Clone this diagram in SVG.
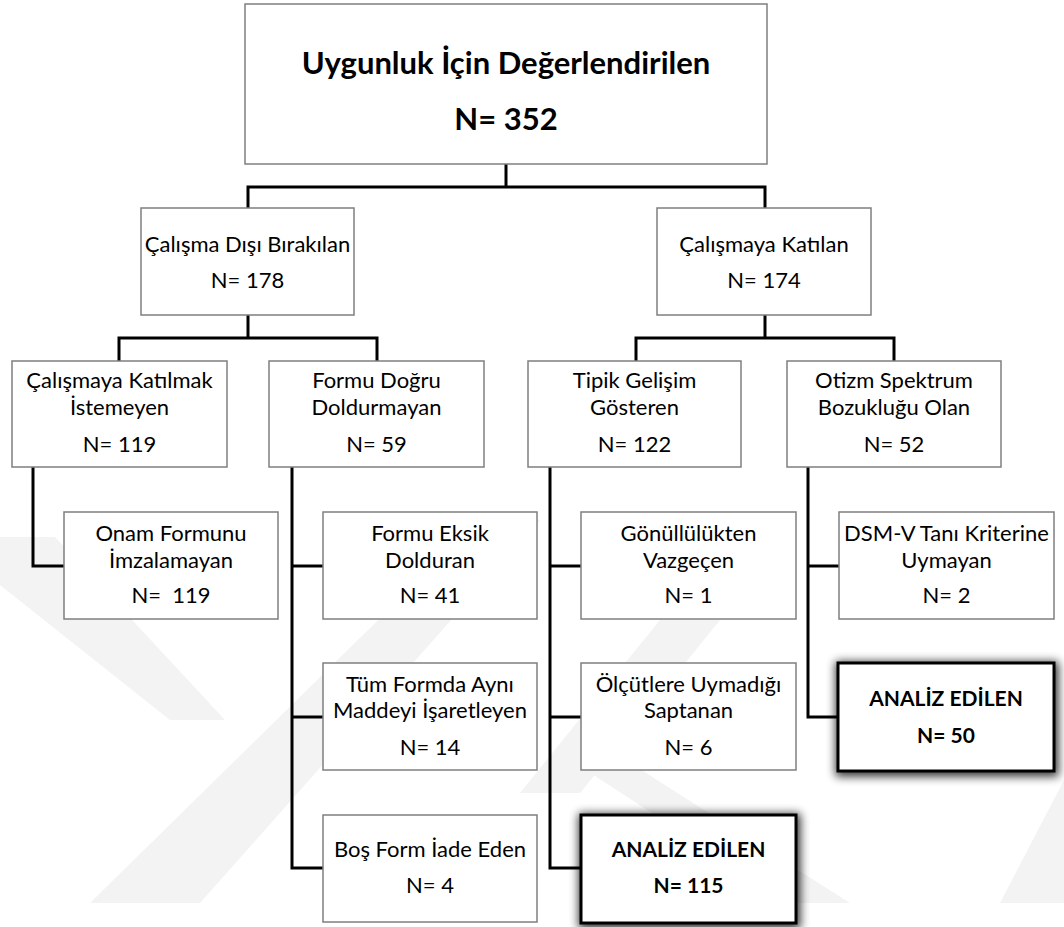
<svg xmlns="http://www.w3.org/2000/svg" width="1064" height="927" viewBox="0 0 1064 927">
<defs>
<style>
.box{fill:#fff;stroke:#7f7f7f;stroke-width:1.5}
.bold{fill:#fff;stroke:#000;stroke-width:3}
.t{font-family:Lato,"Open Sans","Liberation Sans",sans-serif;font-size:22px;fill:#000;text-anchor:middle;white-space:pre}
.tb{font-family:Lato,"Open Sans","Liberation Sans",sans-serif;font-size:21px;font-weight:bold;fill:#000;text-anchor:middle}
.title{font-family:Lato,"Open Sans","Liberation Sans",sans-serif;font-size:31px;font-weight:bold;fill:#000;text-anchor:middle}
.c{fill:none;stroke:#000;stroke-width:3}
.wm{fill:#f3f3f3}
</style>
<filter id="sh" x="-20%" y="-25%" width="140%" height="150%">
<feMorphology in="SourceAlpha" operator="dilate" radius="2" result="d"/>
<feGaussianBlur in="d" stdDeviation="5"/>
<feOffset dx="1" dy="2" result="b"/>
<feComponentTransfer><feFuncA type="linear" slope="0.8"/></feComponentTransfer>
<feMerge><feMergeNode/><feMergeNode in="SourceGraphic"/></feMerge>
</filter>
</defs>
<rect width="1064" height="927" fill="#fff"/>
<g id="watermark">
<polygon class="wm" points="0,537 55,537 225,720 170,720 0,585"/>
<polygon class="wm" points="90,903 200,903 540,520 480,520"/>
<polygon class="wm" points="520,793 580,793 720,620 660,620"/>
<polygon class="wm" points="555,750 610,750 850,903 790,903"/>
<polygon class="wm" points="1000,903 1064,903 1064,780"/>
</g>
<g id="connectors">
<polyline class="c" points="506,164 506,187"/>
<polyline class="c" points="248,208 248,187 765,187 765,208"/>
<polyline class="c" points="248,315 248,338"/>
<polyline class="c" points="119,361 119,338 377,338 377,361"/>
<polyline class="c" points="765,315 765,338"/>
<polyline class="c" points="636,361 636,338 894,338 894,361"/>
<polyline class="c" points="33,467 33,566 64,566"/>
<polyline class="c" points="292,467 292,868 323,868"/>
<line class="c" x1="292" y1="566" x2="323" y2="566"/>
<line class="c" x1="292" y1="717" x2="323" y2="717"/>
<polyline class="c" points="550,467 550,868 581,868"/>
<line class="c" x1="550" y1="566" x2="581" y2="566"/>
<line class="c" x1="550" y1="717" x2="581" y2="717"/>
<polyline class="c" points="808,467 808,717 838,717"/>
<line class="c" x1="808" y1="566" x2="839" y2="566"/>
</g>
<g id="n-root">
<rect class="box" x="245" y="4" width="522" height="160"/>
<text class="title" x="506" y="74">Uygunluk İçin Değerlendirilen</text>
<text class="title" x="506" y="130">N= 352</text>
</g>
<g id="n-excluded">
<rect class="box" x="141" y="208" width="213" height="107"/>
<text class="t" x="247.5" y="252">Çalışma Dışı Bırakılan</text>
<text class="t" x="247.5" y="288">N= 178</text>
</g>
<g id="n-included">
<rect class="box" x="657" y="208" width="214" height="107"/>
<text class="t" x="764" y="252">Çalışmaya Katılan</text>
<text class="t" x="764" y="288">N= 174</text>
</g>
<g id="n-refused">
<rect class="box" x="12" y="361" width="215" height="106"/>
<text class="t" x="119.5" y="388">Çalışmaya Katılmak</text>
<text class="t" x="119.5" y="415">İstemeyen</text>
<text class="t" x="119.5" y="452">N= 119</text>
</g>
<g id="n-wrongform">
<rect class="box" x="269" y="361" width="215" height="106"/>
<text class="t" x="376.5" y="388">Formu Doğru</text>
<text class="t" x="376.5" y="415">Doldurmayan</text>
<text class="t" x="376.5" y="452">N= 59</text>
</g>
<g id="n-typical">
<rect class="box" x="528" y="361" width="213" height="106"/>
<text class="t" x="634.5" y="388">Tipik Gelişim</text>
<text class="t" x="634.5" y="415">Gösteren</text>
<text class="t" x="634.5" y="452">N= 122</text>
</g>
<g id="n-asd">
<rect class="box" x="787" y="361" width="214" height="106"/>
<text class="t" x="894" y="388">Otizm Spektrum</text>
<text class="t" x="894" y="415">Bozukluğu Olan</text>
<text class="t" x="894" y="452">N= 52</text>
</g>
<g id="n-consent">
<rect class="box" x="64" y="512" width="214" height="107"/>
<text class="t" x="171" y="541">Onam Formunu</text>
<text class="t" x="171" y="568">İmzalamayan</text>
<text class="t" x="171" y="603">N=  119</text>
</g>
<g id="n-incomplete">
<rect class="box" x="323" y="512" width="214" height="107"/>
<text class="t" x="430" y="541">Formu Eksik</text>
<text class="t" x="430" y="568">Dolduran</text>
<text class="t" x="430" y="603">N= 41</text>
</g>
<g id="n-withdrew">
<rect class="box" x="581" y="512" width="215" height="107"/>
<text class="t" x="688.5" y="541">Gönüllülükten</text>
<text class="t" x="688.5" y="568">Vazgeçen</text>
<text class="t" x="688.5" y="603">N= 1</text>
</g>
<g id="n-dsm">
<rect class="box" x="839" y="512" width="215" height="107"/>
<text class="t" x="946.5" y="541">DSM-V Tanı Kriterine</text>
<text class="t" x="946.5" y="568">Uymayan</text>
<text class="t" x="946.5" y="603">N= 2</text>
</g>
<g id="n-same">
<rect class="box" x="323" y="663" width="214" height="107"/>
<text class="t" x="430" y="692">Tüm Formda Aynı</text>
<text class="t" x="430" y="718">Maddeyi İşaretleyen</text>
<text class="t" x="430" y="755">N= 14</text>
</g>
<g id="n-criteria">
<rect class="box" x="581" y="663" width="215" height="107"/>
<text class="t" x="688.5" y="692">Ölçütlere Uymadığı</text>
<text class="t" x="688.5" y="718">Saptanan</text>
<text class="t" x="688.5" y="755">N= 6</text>
</g>
<g id="n-analyzed50">
<rect class="bold" x="838" y="663" width="216" height="108" filter="url(#sh)"/>
<text class="tb" x="946" y="706">ANALİZ EDİLEN</text>
<text class="tb" x="946" y="743">N= 50</text>
</g>
<g id="n-blank">
<rect class="box" x="323" y="815" width="214" height="107"/>
<text class="t" x="430" y="857">Boş Form İade Eden</text>
<text class="t" x="430" y="893">N= 4</text>
</g>
<g id="n-analyzed115">
<rect class="bold" x="581" y="815" width="215" height="108" filter="url(#sh)"/>
<text class="tb" x="688.5" y="857">ANALİZ EDİLEN</text>
<text class="tb" x="688.5" y="893">N= 115</text>
</g>
</svg>
